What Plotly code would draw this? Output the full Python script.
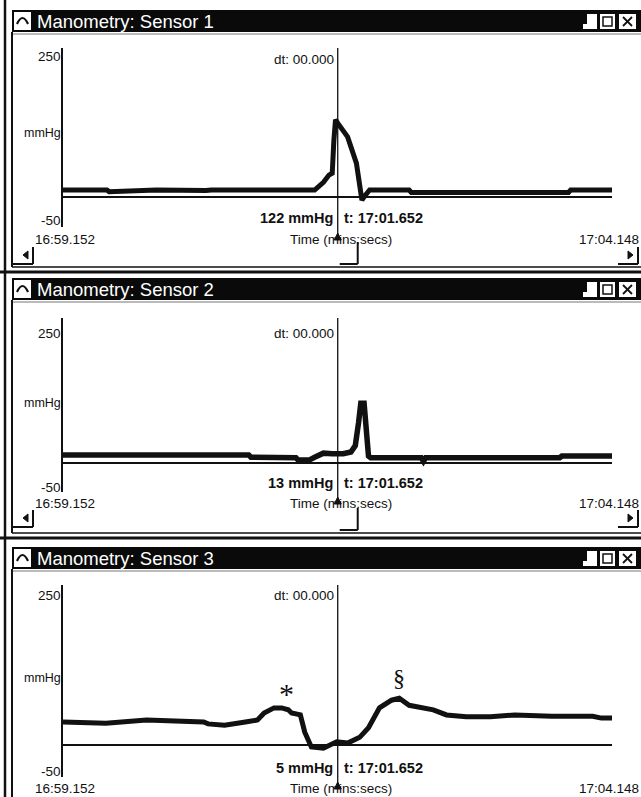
import plotly.graph_objects as go

# ---------------- DATA ----------------
panel_titles = ["Manometry: Sensor 1", "Manometry: Sensor 2", "Manometry: Sensor 3"]
cursor_values = ["122 mmHg", "13 mmHg", "5 mmHg"]
cursor_time_text = "t: 17:01.652"
dt_text = "dt: 00.000"
start_label = "16:59.152"
end_label = "17:04.148"
x_title = "Time (mins:secs)"
y_top_label = "250"
y_bot_label = "-50"
y_unit = "mmHg"
y_range = [-50, 250]
t_span = 4.996          # seconds from 16:59.152 to 17:04.148
cursor_t = 2.5          # 17:01.652

# seconds after 16:59.152, pressure in mmHg
s1_t = [0.00, 0.40, 0.42, 0.80, 0.85, 1.30, 1.35, 2.29, 2.37, 2.42, 2.45, 2.465,
        2.48, 2.50, 2.59, 2.67, 2.70, 2.72, 2.75, 2.79, 3.15, 3.17, 4.60, 4.62, 4.996]
s1_v = [12, 12, 9, 10, 12, 11, 12, 12, 25, 37, 40, 95,
        130, 124, 101, 57, 17, -5, 3, 12, 12, 8, 8, 12, 12]

s2_t = [0.00, 1.69, 1.71, 2.12, 2.14, 2.24, 2.29, 2.37, 2.45, 2.55, 2.62, 2.66,
        2.69, 2.71, 2.74, 2.76, 2.78, 2.80, 3.26, 3.28, 3.30, 4.52, 4.54, 4.996]
s2_v = [14, 14, 10, 9, 5, 5, 10, 17, 16, 16, 19, 30,
        70, 103, 103, 60, 12, 9, 9, 3, 9, 9, 12, 12]

s3_t = [0.00, 0.39, 0.76, 1.28, 1.32, 1.47, 1.66, 1.77, 1.83, 1.92, 1.99, 2.05,
        2.08, 2.16, 2.20, 2.26, 2.37, 2.44, 2.49, 2.59, 2.70, 2.78, 2.88, 2.99,
        3.06, 3.15, 3.26, 3.37, 3.49, 3.67, 3.89, 4.11, 4.45, 4.82, 4.90, 4.996]
s3_v = [36, 34, 39, 36, 33, 31, 36, 39, 50, 58, 58, 55,
        50, 47, 20, -3, -5, 0, 5, 3, 12, 27, 58, 70,
        73, 62, 58, 55, 47, 44, 44, 47, 45, 45, 42, 42]

series_t = [s1_t, s2_t, s3_t]
series_v = [s1_v, s2_v, s3_v]

marker_labels = ["*", "§"]
marker_t = [2.03, 3.06]
marker_v = [80, 105]

# ---------------- LAYOUT GEOMETRY (pixels) ----------------
W, H = 641, 797
X0, X1 = 63, 612  # plot area left/right


def px(x):
    return x / W


def py(y):
    return 1 - y / H


def tx(t):
    return X0 + t / t_span * (X1 - X0)


geo = [
    dict(T=10, top=48, bot=227, y250=56, ymm=133, y50=220, ydt=60, yval=218,
         ytime=239, yarrow=255, ythumb=264, yframe=267, ysep=272),
    dict(T=278, top=318, bot=492, y250=333, ymm=403, y50=487, ydt=333, yval=483,
         ytime=503, yarrow=518, ythumb=530, yframe=533, ysep=538),
    dict(T=547, top=585, bot=777, y250=595, ymm=678, y50=771, ydt=595, yval=768,
         ytime=788, yarrow=None, ythumb=None, yframe=None, ysep=None),
]

FONT = "Liberation Sans, Arial, sans-serif"
INK = "#111111"

fig = go.Figure()
shapes = []
ann = []


def line(x0, y0, x1, y1, w=1.5, c=INK):
    shapes.append(dict(type="line", xref="paper", yref="paper",
                       x0=px(x0), y0=py(y0), x1=px(x1), y1=py(y1),
                       line=dict(color=c, width=w)))


def rect(x0, y0, x1, y1, fill, lc=None, lw=0):
    shapes.append(dict(type="rect", xref="paper", yref="paper",
                       x0=px(x0), y0=py(y1), x1=px(x1), y1=py(y0),
                       fillcolor=fill, line=dict(color=lc or fill, width=lw),
                       layer="above"))


def text(x, y, s, size=13.5, anchor="center", color=INK, bold=False, family=FONT):
    ann.append(dict(xref="paper", yref="paper", x=px(x), y=py(y), text=s,
                    showarrow=False, xanchor=anchor, yanchor="middle",
                    font=dict(size=size, color=color, family=family,
                              weight="bold" if bold else "normal"),
                    borderpad=0))


# outer left border
line(5, 0, 5, H, w=2.5)

for i, g in enumerate(geo):
    n = "" if i == 0 else str(i + 1)
    T = g["T"]
    # axes
    fig.update_layout(**{
        "xaxis" + n: dict(domain=[px(X0), px(X1)], range=[0, t_span], visible=False,
                          anchor="y" + n, fixedrange=True),
        "yaxis" + n: dict(domain=[py(g["bot"]), py(g["top"])], range=y_range,
                          anchor="x" + n, showline=True, linecolor=INK, linewidth=2,
                          showgrid=False, showticklabels=False, ticks="",
                          zeroline=True, zerolinecolor=INK, zerolinewidth=2,
                          fixedrange=True),
    })
    fig.add_trace(go.Scatter(x=series_t[i], y=series_v[i], mode="lines",
                             line=dict(color=INK, width=5 if i != 1 else 5.5),
                             xaxis="x" + n, yaxis="y" + n, showlegend=False,
                             hoverinfo="skip"))

    # title bar
    rect(12, T, W + 2, T + 22, "#0a0a0a")
    rect(14, T + 2, 31, T + 20, "white")
    shapes.append(dict(type="path", xref="paper", yref="paper",
                       path=f"M {px(17)},{py(T+14)} Q {px(22.5)},{py(T+2)} {px(28)},{py(T+14)}",
                       line=dict(color=INK, width=2.2), layer="above"))
    text(36, T + 11.5, panel_titles[i], size=18.5, anchor="left", color="white")
    # window buttons
    rect(583, T + 4, 597, T + 19, "white")
    rect(583, T + 4, 587, T + 14, "#0a0a0a")
    rect(600, T + 4, 615, T + 19, "white")
    rect(603, T + 7, 612, T + 16, "white", INK, 1.5)
    rect(619, T + 4, 636, T + 19, "white")
    line(623, T + 7, 632, T + 16, w=1.8)
    line(623, T + 16, 632, T + 7, w=1.8)
    line(12, T + 24, W, T + 24, w=1, c="#777777")

    # frame left line
    frame_bot = g["yframe"] if g["yframe"] else H
    line(12, T + 22, 12, frame_bot, w=2)
    if g["yframe"]:
        line(12, g["yframe"], W, g["yframe"], w=1.5)
        line(0, g["ysep"], W, g["ysep"], w=3)

    # cursor
    cx = tx(cursor_t)
    shapes.append(dict(type="line", xref="x" + n, yref="paper",
                       x0=cursor_t, x1=cursor_t, y0=py(g["top"]), y1=py(g["ytime"] + 1),
                       line=dict(color=INK, width=1.3), layer="above"))
    tb = g["ytime"] + 1
    shapes.append(dict(type="path", xref="paper", yref="paper",
                       path=f"M {px(cx-3.5)},{py(tb)} L {px(cx+3.5)},{py(tb)} L {px(cx)},{py(tb-7)} Z",
                       fillcolor=INK, line=dict(color=INK, width=1), layer="above"))

    # texts
    text(62, g["y250"], y_top_label, anchor="right")
    text(62, g["ymm"], y_unit, size=12.5, anchor="right")
    text(62, g["y50"], y_bot_label, anchor="right")
    text(cx - 3, g["ydt"], dt_text, anchor="right")
    text(cx - 4, g["yval"], cursor_values[i], size=14.5, anchor="right", bold=True)
    text(cx + 5, g["yval"], cursor_time_text, size=14.5, anchor="left", bold=True)
    text(cx + 3, g["ytime"], x_title, anchor="center")
    text(34, g["ytime"], start_label, anchor="left")
    text(640, g["ytime"], end_label, anchor="right")

    # scroll bar pieces
    if g["yarrow"]:
        ya = g["yarrow"]
        shapes.append(dict(type="path", xref="paper", yref="paper",
                           path=f"M {px(28)},{py(ya-4)} L {px(28)},{py(ya+4)} L {px(23)},{py(ya)} Z",
                           fillcolor=INK, line=dict(color=INK, width=1), layer="above"))
        line(33, ya - 8, 33, ya + 9, w=2)
        line(12, ya + 9, 33, ya + 9, w=2)
        shapes.append(dict(type="path", xref="paper", yref="paper",
                           path=f"M {px(628)},{py(ya-4)} L {px(628)},{py(ya+4)} L {px(633)},{py(ya)} Z",
                           fillcolor=INK, line=dict(color=INK, width=1), layer="above"))
        line(618, ya + 9, 638, ya + 9, w=2)
        line(638, ya - 8, 638, ya + 9, w=2)
        line(cx + 20, g["ythumb"] - 22, cx + 20, g["ythumb"], w=2)
        line(cx + 2, g["ythumb"], cx + 20, g["ythumb"], w=2)

# markers on sensor 3
for lab, t, v, sz in zip(marker_labels, marker_t, marker_v, [30, 24]):
    ann.append(dict(xref="x3", yref="y3", x=t, y=v, text=lab, showarrow=False,
                    xanchor="center", yanchor="middle",
                    font=dict(size=sz, color=INK, family="Liberation Serif, serif")))

fig.update_layout(width=W, height=H, margin=dict(l=0, r=0, t=0, b=0),
                  paper_bgcolor="white", plot_bgcolor="white",
                  shapes=shapes, annotations=ann, showlegend=False)

fig.write_html("out.html", config={"displayModeBar": False},
               post_script="document.body.style.margin='0';document.body.style.overflow='hidden';")
